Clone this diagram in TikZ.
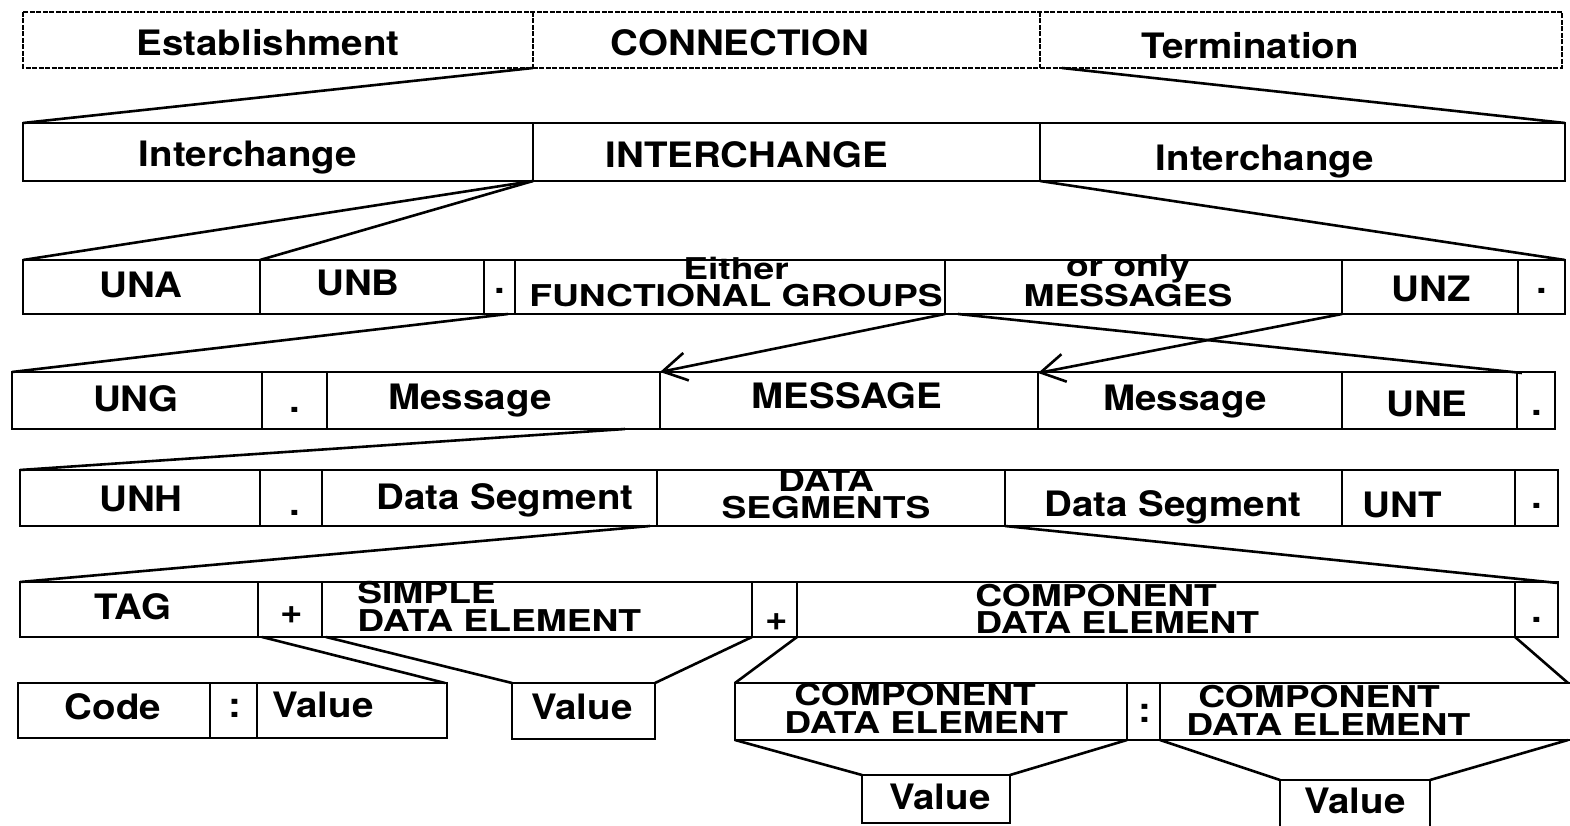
\documentclass[tikz,border=0pt]{standalone}
\usepackage{fontspec}
\setmainfont{TeX Gyre Heros}[FakeStretch=1.1]
\newfontfamily\twofont{TeX Gyre Heros}[FakeStretch=1.24]
\usetikzlibrary{arrows.meta}
\begin{document}
\begin{tikzpicture}[x=1pt,y=-1pt,line width=2.6pt,line join=miter,
  lbl/.style={font=\bfseries\fontsize{35}{27}\selectfont,inner sep=0pt,anchor=base},
  two/.style={inner sep=0pt,anchor=base,align=center,font=\twofont\bfseries\fontsize{30}{#1}\selectfont},
  twol/.style={inner sep=0pt,anchor=base west,align=left,font=\twofont\bfseries\fontsize{30}{#1}\selectfont},
  cell/.style={draw,line width=2.6pt},
  dcell/.style={draw,line width=2.4pt,dash pattern=on 5pt off 1.5pt},
  link/.style={line width=2.6pt},
  arr/.style={line width=2.6pt,-{Straight Barb[length=24pt,width=28pt,line width=2.6pt]}}]
\useasboundingbox (0,0) rectangle (1570,826);
% ---------- row 1 ----------
\draw[dcell] (23,12) rectangle (1562,68);
\draw[dcell] (533,12) -- (533,68) (1040,12) -- (1040,68);
\coordinate (r1a) at (533,68);
\coordinate (r1b) at (1062,68);
\node[lbl] (t1a) at (268,56) {Establishment};
\node[lbl] (t1b) at (740,56) {CONNECTION};
\node[lbl] (t1c) at (1250,59) {Termination};
% ---------- row 2 ----------
\draw[cell] (23,123) rectangle (1565,181);
\draw[cell] (533,123) -- (533,181) (1040,123) -- (1040,181);
\coordinate (r2l) at (23,123);
\coordinate (r2r) at (1565,123);
\coordinate (r2a) at (533,181);
\coordinate (r2b) at (1040,181);
\node[lbl] (t2a) at (248,167) {Interchange};
\node[lbl] (t2b) at (747,168) {INTERCHANGE};
\node[lbl] (t2c) at (1265,171) {Interchange};
\draw[link] (r1a) -- (r2l);
\draw[link] (r1b) -- (r2r);
% ---------- row 3 ----------
\draw[cell] (23,260) rectangle (1565,314);
\draw[cell] (260,260) -- (260,314) (484,260) -- (484,314) (515,260) -- (515,314)
  (945,260) -- (945,314) (1342,260) -- (1342,314) (1518,260) -- (1518,314);
\coordinate (r3l) at (23,260);
\coordinate (r3b) at (260,260);
\coordinate (r3r) at (1565,260);
\coordinate (r3a) at (508,314);
\coordinate (r3m) at (945,314);
\coordinate (r3n) at (958,314);
\coordinate (r3z) at (1342,314);
\node[lbl] (t3a) at (141,297) {UNA};
\node[lbl] (t3b) at (358,295) {UNB};
\node[lbl] (t3c) at (500,293) {.};
\node[two=27] (t3d) at (736,306) {Either\\FUNCTIONAL GROUPS};
\node[two=26] (t3f) at (1128,306) {or only\\MESSAGES};
\node[lbl] (t3h) at (1431,301) {UNZ};
\node[lbl] (t3i) at (1542,293) {.};
\draw[link] (r2a) -- (r3l);
\draw[link] (r2a) -- (r3b);
\draw[link] (r2b) -- (r3r);
% ---------- row 4 ----------
\draw[cell] (12,372) rectangle (1555,429);
\draw[cell] (262,372) -- (262,429) (327,372) -- (327,429) (660,372) -- (660,429)
  (1038,372) -- (1038,429) (1342,372) -- (1342,429) (1517,372) -- (1517,429);
\coordinate (r4l) at (12,372);
\coordinate (r4m) at (660,372);
\coordinate (r4n) at (1038,373);
\coordinate (r4e) at (1522,373);
\coordinate (r4a) at (625,429);
\node[lbl] (t4a) at (136,411) {UNG};
\node[lbl] (t4b) at (295,412) {.};
\node[lbl] (t4c) at (470,409) {Message};
\node[lbl] (t4d) at (847,408) {MESSAGE};
\node[lbl] (t4e) at (1185,410) {Message};
\node[lbl] (t4f) at (1427,416) {UNE};
\node[lbl] (t4g) at (1537,415) {.};
\draw[link] (r3a) -- (r4l);
\draw[arr] (r3m) -- (r4m);
\draw[arr] (r3z) -- (r4n);
\draw[link] (r3n) -- (r4e);
% ---------- row 5 ----------
\draw[cell] (20,470) rectangle (1558,526);
\draw[cell] (260,470) -- (260,526) (322,470) -- (322,526) (657,470) -- (657,526)
  (1005,470) -- (1005,526) (1342,470) -- (1342,526) (1515,470) -- (1515,526);
\coordinate (r5l) at (20,470);
\coordinate (r5a) at (650,526);
\coordinate (r5b) at (1005,526);
\node[lbl] (t5a) at (141,511) {UNH};
\node[lbl] (t5b) at (295,515) {.};
\node[lbl] (t5c) at (505,509) {Data Segment};
\node[two=27] (t5d) at (826,518) {DATA\\SEGMENTS};
\node[lbl] (t5f) at (1173,516) {Data Segment};
\node[lbl] (t5g) at (1402,517) {UNT};
\node[lbl] (t5h) at (1537,508) {.};
\draw[link] (r4a) -- (r5l);
% ---------- row 6 ----------
\draw[cell] (20,582) rectangle (1558,637);
\draw[cell] (258,582) -- (258,637) (322,582) -- (322,637) (752,582) -- (752,637)
  (797,582) -- (797,637) (1515,582) -- (1515,637);
\coordinate (r6l) at (20,582);
\coordinate (r6r) at (1558,583);
\coordinate (r6a) at (262,637);
\coordinate (r6b) at (326,637);
\coordinate (r6c) at (752,637);
\coordinate (r6d) at (797,637);
\coordinate (r6e) at (1515,637);
\node[lbl] (t6a) at (133,619) {TAG};
\node[lbl] (t6b) at (292,623) {+};
\node[twol=28] (t6c) at (356,631) {SIMPLE\\DATA ELEMENT};
\node[lbl] (t6e) at (777,630) {+};
\node[twol=27] (t6f) at (974,633) {COMPONENT\\DATA ELEMENT};
\node[lbl] (t6h) at (1537,622) {.};
\draw[link] (r5a) -- (r6l);
\draw[link] (r5b) -- (r6r);
% ---------- row 7 ----------
\draw[cell] (18,683) rectangle (447,738);
\draw[cell] (210,683) -- (210,738) (257,683) -- (257,738);
\draw[cell] (512,683) rectangle (655,739);
\draw[cell] (1570,683) -- (735,683) -- (735,740) -- (1570,740);
\draw[cell] (1127,683) -- (1127,740) (1160,683) -- (1160,740);
\coordinate (r7a) at (445,683);
\coordinate (r7b) at (512,683);
\coordinate (r7c) at (655,683);
\coordinate (r7d) at (735,683);
\coordinate (r7e) at (1568,683);
\coordinate (r7f) at (735,740);
\coordinate (r7g) at (1127,740);
\coordinate (r7h) at (1160,740);
\coordinate (r7i) at (1568,740);
\node[lbl] (t7a) at (113,719) {Code};
\node[lbl] (t7b) at (235,717) {:};
\node[lbl] (t7c) at (323,717) {Value};
\node[lbl] (t7d) at (582,719) {Value};
\node[twol=28] (t7e) at (783,733) {\hspace*{10pt}COMPONENT\\DATA ELEMENT};
\node[lbl] (t7g) at (1145,722) {:};
\node[twol=28] (t7h) at (1185,735) {\hspace*{12pt}COMPONENT\\DATA ELEMENT};
\draw[link] (r6a) -- (r7a);
\draw[link] (r6b) -- (r7b);
\draw[link] (r6c) -- (r7c);
\draw[link] (r6d) -- (r7d);
\draw[link] (r6e) -- (r7e);
% ---------- row 8 ----------
\draw[cell] (862,775) rectangle (1010,823);
\draw[cell] (1280,780) rectangle (1430,828);
\coordinate (r8a) at (862,775);
\coordinate (r8b) at (1010,775);
\coordinate (r8c) at (1280,780);
\coordinate (r8d) at (1430,780);
\node[lbl] (t8a) at (940,809) {Value};
\node[lbl] (t8b) at (1355,813) {Value};
\draw[link] (r7f) -- (r8a);
\draw[link] (r7g) -- (r8b);
\draw[link] (r7h) -- (r8c);
\draw[link] (r7i) -- (r8d);
\end{tikzpicture}
\end{document}
